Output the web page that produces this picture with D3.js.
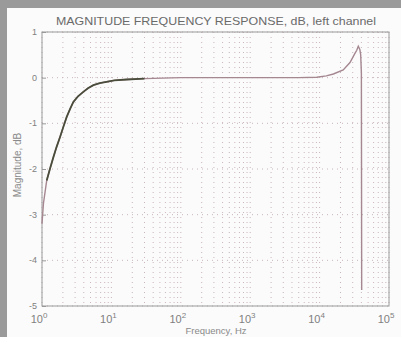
<!DOCTYPE html>
<html>
<head>
<meta charset="utf-8">
<script src="https://cdn.jsdelivr.net/npm/d3@7"></script>
<style>
  html, body { margin: 0; background: #fbfbfb; overflow: hidden; }
  svg { display: block; font-family: "Liberation Sans", Arial, sans-serif; }
</style>
</head>
<body>
<div id="chart"></div>
<script>
// frequency (Hz) and magnitude (dB)
const freq = [1, 1.05, 1.17, 1.3, 1.46, 1.62, 1.82, 2.05, 2.27, 2.55, 2.83, 3.3, 3.94, 4.6, 5.5, 6.8, 8.5, 11, 16.6, 30, 100, 1000, 5000, 9100, 12500, 15800, 21900, 27400, 32000, 34300, 36100, 38000, 39100, 40000, 40400];
const magDb = [-3.2, -2.75, -2.25, -2.0, -1.74, -1.52, -1.3, -1.06, -0.86, -0.68, -0.53, -0.41, -0.31, -0.23, -0.165, -0.12, -0.09, -0.06, -0.04, -0.02, 0, 0, 0, 0.01, 0.04, 0.08, 0.17, 0.33, 0.52, 0.6, 0.69, 0.62, 0.5, 0.1, -4.65];
const yTicks = [1, 0, -1, -2, -3, -4, -5];
const xDecades = [0, 1, 2, 3, 4, 5];

const W = 401, H = 337;
const margin = {top: 32, right: 12, bottom: 31, left: 42};

let svg = d3.select('#chart').append('svg')
  .attr('width', W)
  .attr('height', H);

// scanned page with grey border
svg.append('rect').attr('width', W).attr('height', H).attr('fill', '#9a9a9a');
svg.append('rect').attr('x', 7).attr('y', 8).attr('width', W - 7).attr('height', H - 8).attr('fill', '#fbfbfb');

let xScale = d3.scaleLog().domain([1, 1e5]).range([margin.left, W - margin.right]);
let yScale = d3.scaleLinear().domain([-5, 1]).range([H - margin.bottom, margin.top]);

// minor + major log grid (dotted)
let gridX = [];
xDecades.forEach(function(e) {
  if (e < 5) {
    for (let m = 1; m < 10; m++) gridX.push(m * Math.pow(10, e));
  } else gridX.push(1e5);
});
svg.append('g').selectAll('line')
  .data(gridX)
  .enter()
  .append('line')
  .attr('x1', d => xScale(d)).attr('x2', d => xScale(d))
  .attr('y1', yScale(1)).attr('y2', yScale(-5))
  .attr('stroke', '#c9b6bb')
  .attr('stroke-width', 1)
  .attr('stroke-dasharray', '1,4');

svg.append('g').selectAll('line')
  .data(yTicks)
  .enter()
  .append('line')
  .attr('x1', xScale(1)).attr('x2', xScale(1e5))
  .attr('y1', d => yScale(d)).attr('y2', d => yScale(d))
  .attr('stroke', '#c9b6bb')
  .attr('stroke-width', 1)
  .attr('stroke-dasharray', '1,4');

// frame
svg.append('rect')
  .attr('x', xScale(1)).attr('y', yScale(1))
  .attr('width', xScale(1e5) - xScale(1))
  .attr('height', yScale(-5) - yScale(1))
  .attr('fill', 'none')
  .attr('stroke', '#9a9a9a')
  .attr('stroke-width', 1);

// inside ticks
let yAxis = d3.axisRight(yScale).tickValues(yTicks).tickSize(4).tickFormat('');
svg.append('g').attr('transform', `translate(${margin.left},0)`).call(yAxis)
  .call(g => g.select('.domain').remove())
  .call(g => g.selectAll('line').attr('stroke', '#999'));

// curve
let line = d3.line()
  .x((d, i) => xScale(freq[i]))
  .y(d => yScale(d));

svg.append('path')
  .attr('d', line(magDb))
  .attr('fill', 'none')
  .attr('stroke', '#a58790')
  .attr('stroke-width', 1.4);

// darker noisy-looking low frequency part
let lowIdx = freq.map((f, i) => i).filter(i => freq[i] >= 1.17 && freq[i] <= 30);
svg.append('path')
  .attr('d', d3.line().x(i => xScale(freq[i])).y(i => yScale(magDb[i]))(lowIdx))
  .attr('fill', 'none')
  .attr('stroke', '#4b4d3c')
  .attr('stroke-width', 1.8);

// y tick labels
svg.append('g').selectAll('text')
  .data(yTicks)
  .enter()
  .append('text')
  .attr('x', margin.left - 5)
  .attr('y', d => yScale(d) + 3)
  .attr('text-anchor', 'end')
  .attr('font-size', 9)
  .attr('fill', '#808080')
  .text(d => d);

// x tick labels: 10 with superscript exponent
let xl = svg.append('g').selectAll('text')
  .data(xDecades)
  .enter()
  .append('text')
  .attr('x', d => xScale(Math.pow(10, d)) - 3)
  .attr('y', 323)
  .attr('text-anchor', 'middle')
  .attr('font-size', 11)
  .attr('fill', '#808080');
xl.append('tspan').text('10');
xl.append('tspan').attr('dy', -5).attr('font-size', 8).text(d => d);

// title and labels
svg.append('text')
  .attr('x', 216).attr('y', 25)
  .attr('text-anchor', 'middle')
  .attr('font-size', 11)
  .attr('textLength', 320)
  .attr('lengthAdjust', 'spacingAndGlyphs')
  .attr('fill', '#6a6a6a')
  .text('MAGNITUDE FREQUENCY RESPONSE, dB, left channel');

svg.append('text')
  .attr('x', 216).attr('y', 334)
  .attr('text-anchor', 'middle')
  .attr('font-size', 9.5)
  .attr('fill', '#8a8a8a')
  .text('Frequency, Hz');

svg.append('text')
  .attr('transform', 'translate(21,165) rotate(-90)')
  .attr('text-anchor', 'middle')
  .attr('font-size', 10)
  .attr('fill', '#8a8a8a')
  .text('Magnitude, dB');
</script>
</body>
</html>
